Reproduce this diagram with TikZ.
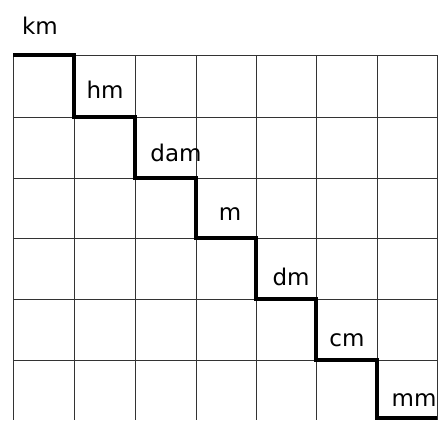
\documentclass[tikz,border=0pt]{standalone}
\usepackage{fontspec}
\setmainfont{DejaVu Sans}
\begin{document}
\begin{tikzpicture}[x=1pt,y=-1pt,
  gridline/.style={line width=0.9pt,black!80},
  stair/.style={line width=3.6pt,black,line join=miter,line cap=butt},
  unit/.style={font=\fontsize{23}{23}\selectfont,inner sep=0pt}]
\useasboundingbox (0,0) rectangle (446,420);
\fill[white] (0,0) rectangle (446,420);
% grid
\foreach \x in {13,74,135,196,256,316,377,437}
  \draw[gridline] (\x,55) -- (\x,420);
\foreach \y in {55,117,178,238,299,360}
  \draw[gridline] (13,\y) -- (437,\y);
% staircase
\draw[stair] (13,55) -- (74,55) -- (74,117) -- (135,117) -- (135,178) -- (196,178)
  -- (196,238) -- (256,238) -- (256,299) -- (316,299) -- (316,360) -- (377,360)
  -- (377,418) -- (437,418);
% labels
\node[unit] (km) at (40,26) {km};
\node[unit] (hm) at (105,90) {hm};
\node[unit] (dam) at (176,153) {dam};
\node[unit] (m) at (230,214) {m};
\node[unit] (dm) at (291,277) {dm};
\node[unit] (cm) at (347,340) {cm};
\node[unit] (mm) at (414,400) {mm};
\end{tikzpicture}
\end{document}
